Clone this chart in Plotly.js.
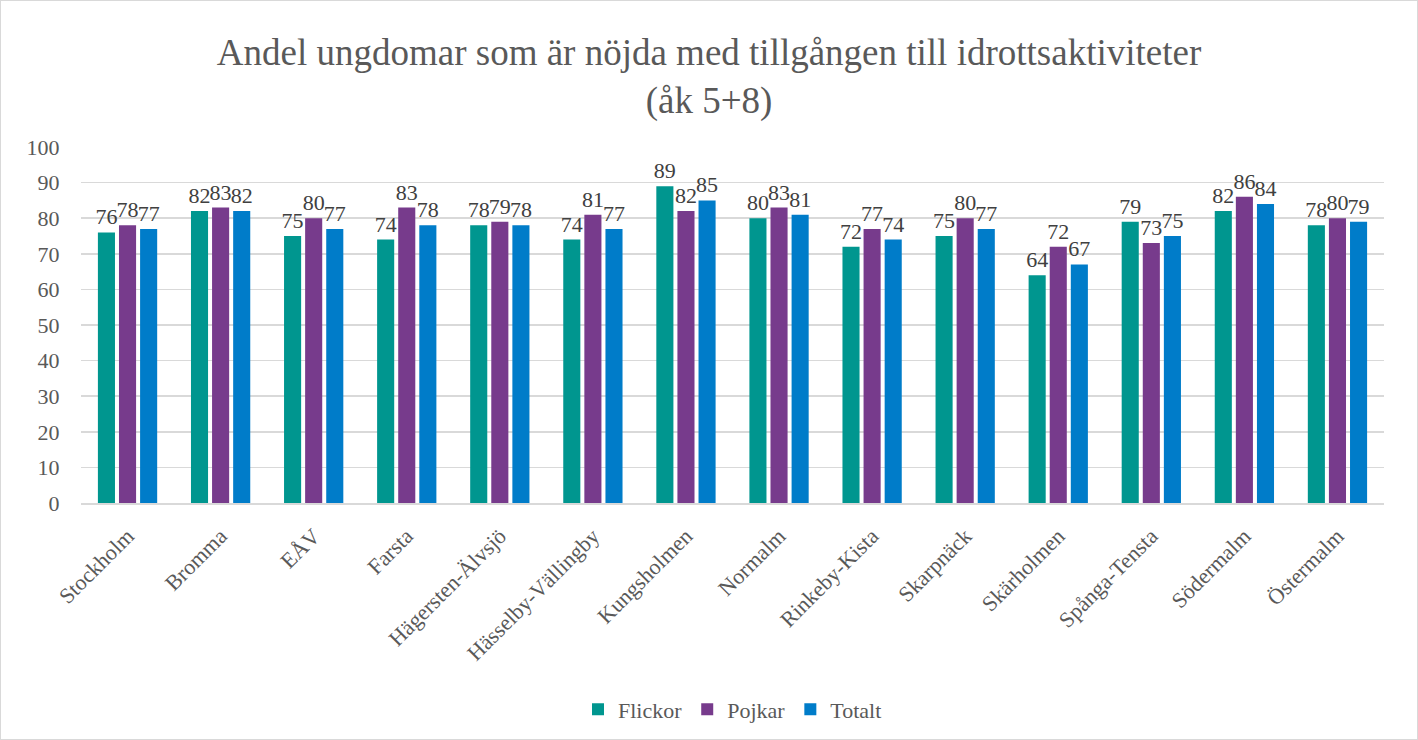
<!DOCTYPE html>
<html><head><meta charset="utf-8">
<script src="https://cdn.plot.ly/plotly-3.0.1.min.js"></script>
<style>
html,body{margin:0;padding:0;background:#fff;}
#wrap{position:absolute;left:0;top:0;width:1416px;height:738px;border:1px solid #d9d9d9;}
#chart{width:1416px;height:738px;}
</style></head>
<body><div id="wrap"><div id="chart"></div></div>
<script>
const categories = ["Stockholm","Bromma","EÅV","Farsta","Hägersten-Älvsjö","Hässelby-Vällingby","Kungsholmen","Normalm","Rinkeby-Kista","Skarpnäck","Skärholmen","Spånga-Tensta","Södermalm","Östermalm"];
const flickor = [76,82,75,74,78,74,89,80,72,75,64,79,82,78];
const pojkar  = [78,83,80,83,79,81,82,83,77,80,72,73,86,80];
const totalt  = [77,82,77,78,78,77,85,81,74,77,67,75,84,79];
const yTicks = [0,10,20,30,40,50,60,70,80,90,100];

const font = "Liberation Serif, Times New Roman, serif";
function tr(name, vals, color){
  return {type:'bar', name:name, x:categories, y:vals, marker:{color:color},
    text:vals.map(String), textposition:'outside', cliponaxis:false, constraintext:'none',
    textfont:{family:font,size:22,color:'#404040'}, hoverinfo:'x+y'};
}
const data = [tr('Flickor',flickor,'#00968F'), tr('Pojkar',pojkar,'#773B8C'), tr('Totalt',totalt,'#007CC9')];
const layout = {
  width:1416, height:738,
  font:{family:font, color:'#595959'},
  margin:{l:80,r:33,t:146,b:236,autoexpand:false},
  paper_bgcolor:'#fff', plot_bgcolor:'#fff',
  title:{text:'Andel ungdomar som är nöjda med tillgången till idrottsaktiviteter<br>(åk 5+8)', font:{family:font,size:37,color:'#595959'}, x:0.5, xanchor:'center', yref:'container', y:0.913, yanchor:'middle'},
  barmode:'group', bargap:0.32, bargroupgap:0.19,
  xaxis:{tickangle:-45, tickfont:{family:font,size:22,color:'#595959'}, showgrid:false, showline:true, linecolor:'#d9d9d9', linewidth:1.5, ticks:'outside', ticklen:10, tickcolor:'rgba(0,0,0,0)', automargin:false},
  yaxis:{range:[0,100], tickvals:yTicks, ticktext:yTicks.map(String), tickfont:{family:font,size:22,color:'#595959'}, showgrid:true, gridcolor:'#d9d9d9', gridwidth:1.5, zeroline:false, showline:false, ticks:'outside', ticklen:16, tickcolor:'rgba(0,0,0,0)', automargin:false},
  showlegend:true,
  legend:{orientation:'h', x:0.5, xanchor:'center', y:-0.58, yanchor:'middle', font:{family:font,size:22,color:'#595959'}, itemwidth:30, traceorder:'normal'}
};
Plotly.newPlot('chart', data, layout, {displayModeBar:false, staticPlot:true});
</script></body></html>
